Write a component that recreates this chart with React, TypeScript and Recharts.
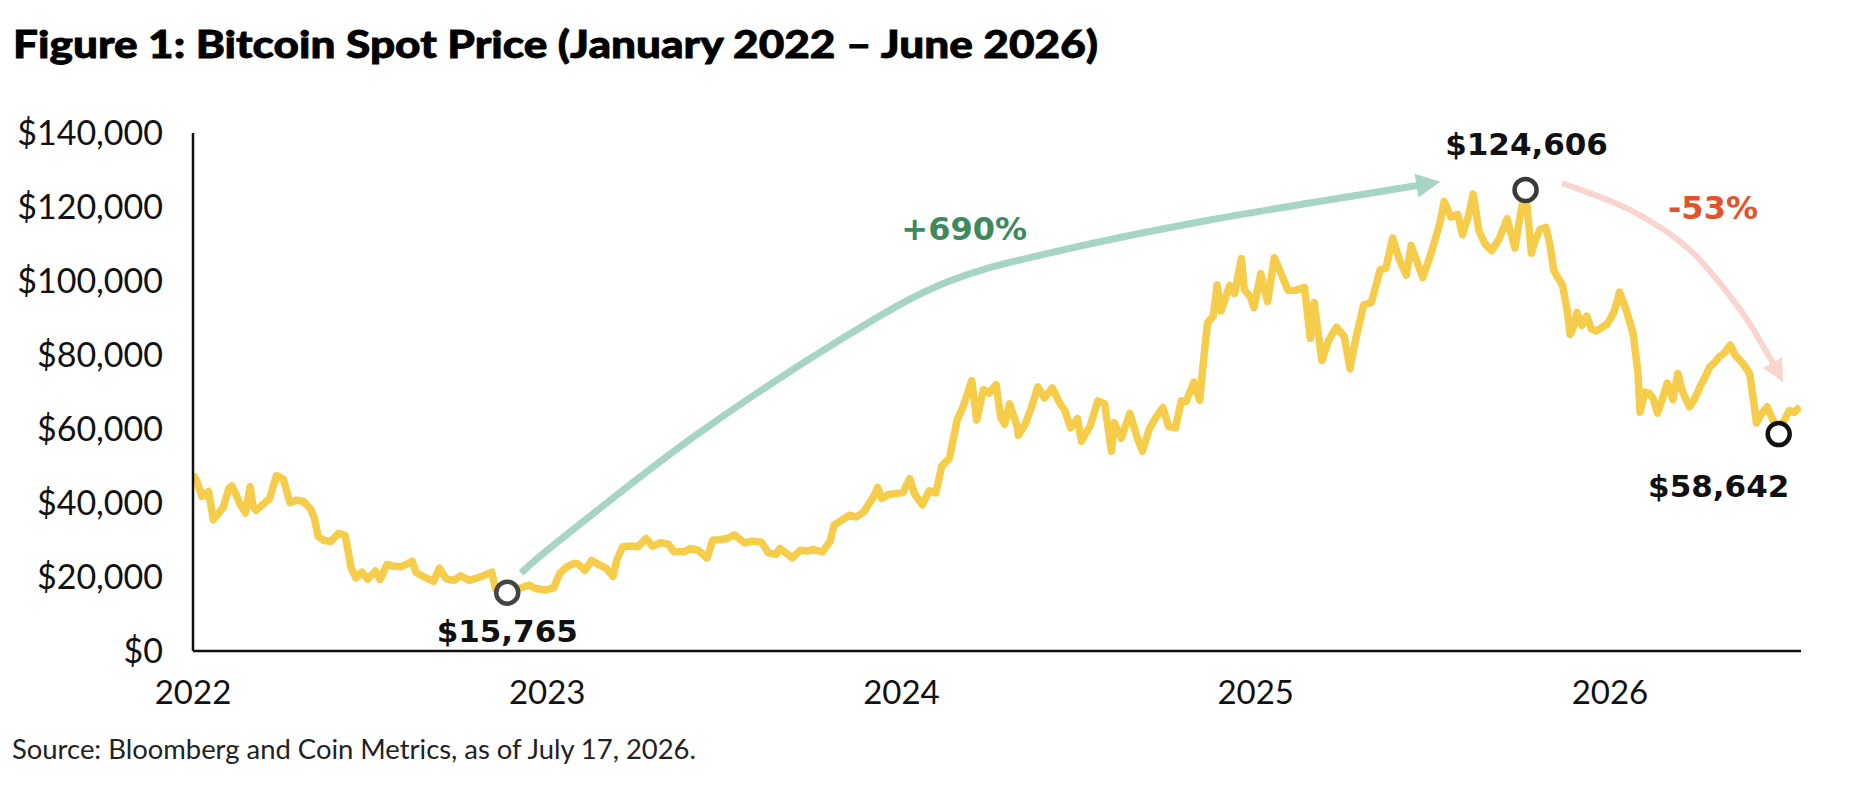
import React from 'react';
import { LineChart, Line, XAxis, YAxis, ReferenceDot } from 'recharts';

// ---- data (prices in thousands of USD) ----
const DAYS_2022 = ['01-01', '01-05', '01-10', '01-17', '01-22', '01-27', '02-01', '02-07', '02-10', '02-14', '02-18', '02-24', '03-01', '03-04', '03-07', '03-14', '03-21', '03-28', '04-04', '04-11', '04-18', '04-25', '05-02', '05-06', '05-10', '05-16', '05-23', '05-31', '06-07', '06-13', '06-18', '06-24', '06-30', '07-08', '07-13', '07-20', '07-27', '08-03', '08-10', '08-15', '08-19', '08-26', '09-06', '09-12', '09-19', '09-27', '10-04', '10-13', '10-25', '11-05', '11-09', '11-14', '11-21', '11-28', '12-05', '12-14', '12-20', '12-31'];
const PRICES_2022 = [47.7, 45.9, 41.8, 43.1, 35.5, 37.1, 38.7, 44.0, 44.6, 42.5, 40.0, 37.3, 44.4, 39.1, 38.0, 39.6, 41.2, 47.4, 46.5, 40.1, 40.8, 40.4, 38.5, 36.0, 31.0, 29.9, 29.6, 31.8, 31.2, 22.5, 19.8, 21.3, 19.4, 21.6, 19.3, 23.4, 22.9, 22.8, 23.5, 24.3, 21.2, 20.2, 18.8, 22.4, 19.5, 19.1, 20.3, 19.1, 20.1, 21.3, 16.7, 16.4, 15.765, 16.2, 17.1, 17.8, 16.9, 16.5];

const DAYS_2023 = ['01-08', '01-14', '01-21', '01-29', '02-02', '02-09', '02-16', '02-25', '03-03', '03-10', '03-14', '03-20', '03-29', '04-05', '04-13', '04-20', '04-28', '05-06', '05-12', '05-22', '05-29', '06-06', '06-15', '06-21', '06-28', '07-06', '07-13', '07-24', '08-01', '08-10', '08-17', '08-25', '08-29', '09-11', '09-19', '09-28', '10-02', '10-12', '10-20', '10-24', '11-01', '11-09', '11-16', '11-24', '12-04', '12-08', '12-12', '12-19', '12-28'];
const PRICES_2023 = [17.1, 20.9, 22.7, 23.7, 23.5, 21.8, 24.5, 23.1, 22.4, 20.2, 24.6, 28.2, 28.4, 28.2, 30.4, 28.3, 29.3, 28.9, 26.8, 26.8, 27.7, 27.2, 25.1, 30.0, 30.1, 30.4, 31.4, 29.2, 29.7, 29.4, 26.6, 26.1, 27.7, 25.2, 27.2, 27.0, 27.5, 26.8, 29.7, 34.0, 35.4, 36.7, 36.2, 37.7, 41.9, 44.2, 41.2, 42.3, 42.6];

const DAYS_2024 = ['01-03', '01-10', '01-15', '01-23', '01-30', '02-06', '02-12', '02-20', '02-28', '03-05', '03-08', '03-14', '03-19', '03-26', '04-01', '04-08', '04-13', '04-17', '04-22', '04-30', '05-01', '05-08', '05-15', '05-21', '05-28', '06-05', '06-12', '06-18', '06-24', '07-01', '07-05', '07-14', '07-22', '07-29', '08-05', '08-08', '08-15', '08-24', '09-01', '09-06', '09-13', '09-20', '09-27', '10-03', '10-10', '10-16', '10-21', '10-29', '11-04', '11-07', '11-12', '11-18', '11-22', '11-26', '12-05', '12-10', '12-17', '12-20', '12-26', '12-30'];
const PRICES_2024 = [42.8, 46.6, 42.5, 39.5, 43.3, 42.7, 49.9, 52.2, 62.5, 66.0, 68.3, 73.1, 62.4, 70.6, 69.7, 72.0, 63.0, 61.3, 66.8, 60.6, 58.3, 61.2, 66.2, 71.4, 68.4, 71.1, 67.3, 65.0, 60.3, 62.8, 56.7, 60.8, 67.6, 66.8, 54.0, 61.7, 57.5, 64.2, 57.3, 54.0, 60.0, 63.2, 65.8, 60.7, 60.3, 67.6, 67.4, 72.7, 67.8, 76.0, 88.7, 90.5, 98.9, 91.9, 98.8, 96.6, 106.1, 97.7, 95.8, 92.8];

const DAYS_2025 = ['01-06', '01-13', '01-20', '01-27', '02-03', '02-10', '02-20', '02-26', '03-02', '03-10', '03-17', '03-25', '04-02', '04-08', '04-14', '04-22', '04-30', '05-09', '05-15', '05-22', '05-29', '06-05', '06-10', '06-17', '06-22', '06-30', '07-03', '07-10', '07-14', '07-21', '07-28', '08-02', '08-08', '08-13', '08-19', '08-25', '09-01', '09-09', '09-17', '09-25', '10-01', '10-06', '10-12', '10-16', '10-21', '10-27', '10-31', '11-04', '11-07', '11-13', '11-18', '11-21', '11-25', '11-28', '12-03', '12-08', '12-13', '12-18', '12-24', '12-29'];
const PRICES_2025 = [102.0, 94.5, 106.3, 102.0, 97.5, 97.4, 98.3, 84.5, 94.2, 78.5, 84.0, 87.5, 85.0, 76.3, 84.5, 93.5, 94.2, 103.0, 103.5, 111.6, 105.7, 101.6, 109.6, 104.5, 100.9, 107.1, 109.6, 116.0, 121.5, 117.3, 118.0, 112.5, 117.5, 123.5, 113.5, 110.1, 108.2, 111.5, 116.8, 108.9, 118.6, 124.606, 107.5, 111.0, 114.0, 114.5, 110.0, 103.0, 101.5, 99.0, 92.0, 85.5, 88.0, 91.5, 88.0, 90.5, 87.0, 86.5, 87.5, 88.3];

const DAYS_2026 = ['01-05', '01-11', '01-18', '01-25', '01-30', '02-01', '02-06', '02-11', '02-15', '02-19', '02-24', '03-01', '03-07', '03-12', '03-17', '03-24', '03-29', '04-04', '04-09', '04-14', '04-19', '04-24', '04-29', '05-05', '05-10', '05-15', '05-20', '05-25', '05-30', '06-01', '06-06', '06-12', '06-18', '06-24', '06-29', '07-05', '07-10', '07-16'];
const PRICES_2026 = [91.5, 97.0, 92.0, 85.7, 75.0, 64.5, 70.0, 69.5, 68.0, 64.3, 68.0, 72.4, 68.0, 75.0, 70.0, 66.0, 68.0, 71.5, 74.0, 76.8, 78.0, 79.6, 80.5, 82.7, 80.0, 78.6, 77.0, 75.0, 66.0, 61.6, 64.0, 66.0, 62.4, 58.642, 62.0, 65.0, 64.5, 66.0];

const YEAR_TICKS = [2022, 2023, 2024, 2025, 2026];
const PRICE_TICKS = [0, 20000, 40000, 60000, 80000, 100000, 120000, 140000];

// annotated points: [date, price]
const LOW_POINT: [string, number] = ['2022-11-21', 15765];
const HIGH_POINT: [string, number] = ['2025-10-06', 124606];
const LAST_LOW_POINT: [string, number] = ['2026-06-24', 58642];

// arrow guides in data space: [fractional year, price]
const UP_ARROW: [number, number][] = [[2022.926, 21100], [2023.036, 30000], [2023.412, 57800], [2023.827, 84100], [2024.123, 99500], [2024.42, 107600], [2024.871, 116500], [2025.43, 125400], [2025.521, 126800]];
const DOWN_ARROW: [number, number][] = [[2025.865, 126500], [2026.057, 119200], [2026.226, 108400], [2026.368, 92200], [2026.447, 80000], [2026.489, 72700]];

// ---- layout ----
const W = 1864;
const H = 786;
const PLOT = { left: 193, top: 133, right: 1801, bottom: 651 };
const X_END = '2026-07-17';

const YELLOW = '#F6CD4A';
const FONT = 'Lato, "Open Sans", sans-serif';
const BOLD = '"DejaVu Sans", Lato, sans-serif';

const toYear = (iso: string) => {
  const [y, m, d] = iso.split('-').map(Number);
  return 2022 + (Date.UTC(y, m - 1, d) - Date.UTC(2022, 0, 1)) / (365.25 * 86400000);
};

const build = (year: number, days: string[], prices: number[]) =>
  days.map((md, i) => ({ t: toYear(`${year}-${md}`), price: prices[i] * 1000 }));

const data = [
  ...build(2022, DAYS_2022, PRICES_2022),
  ...build(2023, DAYS_2023, PRICES_2023),
  ...build(2024, DAYS_2024, PRICES_2024),
  ...build(2025, DAYS_2025, PRICES_2025),
  ...build(2026, DAYS_2026, PRICES_2026),
];

const X_MAX = toYear(X_END);
const sx = (t: number) => PLOT.left + ((t - 2022) / (X_MAX - 2022)) * (PLOT.right - PLOT.left);
const sy = (v: number) => PLOT.bottom - (v / 140000) * (PLOT.bottom - PLOT.top);

function smoothPath(pts: number[][]) {
  let d = `M${pts[0][0]},${pts[0][1]}`;
  for (let i = 0; i < pts.length - 1; i++) {
    const p0 = pts[i - 1] || pts[i];
    const p1 = pts[i];
    const p2 = pts[i + 1];
    const p3 = pts[i + 2] || p2;
    const c1 = [p1[0] + (p2[0] - p0[0]) / 6, p1[1] + (p2[1] - p0[1]) / 6];
    const c2 = [p2[0] - (p3[0] - p1[0]) / 6, p2[1] - (p3[1] - p1[1]) / 6];
    d += ` C${c1[0]},${c1[1]} ${c2[0]},${c2[1]} ${p2[0]},${p2[1]}`;
  }
  return d;
}

const Arrow = ({ points, color, width, head }: { points: [number, number][]; color: string; width: number; head: number }) => {
  const px = points.map(([t, v]) => [sx(t), sy(v)]);
  const tip = px[px.length - 1];
  const prev = px[px.length - 2];
  const len = Math.hypot(tip[0] - prev[0], tip[1] - prev[1]);
  const ux = (tip[0] - prev[0]) / len;
  const uy = (tip[1] - prev[1]) / len;
  const base = [tip[0] - ux * head, tip[1] - uy * head];
  const half = head * 0.5;
  const body = [...px.slice(0, -1), base];
  return (
    <g>
      <path d={smoothPath(body)} fill="none" stroke={color} strokeWidth={width} />
      <polygon
        points={`${tip[0]},${tip[1]} ${base[0] - uy * half},${base[1] + ux * half} ${base[0] + uy * half},${base[1] - ux * half}`}
        fill={color}
      />
    </g>
  );
};

const ValueLabel = ({ point, dx, dy }: { point: [string, number]; dx: number; dy: number }) => (
  <text
    x={sx(toYear(point[0])) + dx}
    y={sy(point[1]) + dy + 11}
    textAnchor="middle"
    fontFamily={BOLD}
    fontWeight={700}
    fontSize={31}
    fill="#111"
  >
    {`$${point[1].toLocaleString('en-US')}`}
  </text>
);

export default function App() {
  return (
    <div style={{ position: 'relative', width: W, height: H, background: '#fff' }}>
      <style>{'body{margin:0}'}</style>
      <LineChart
        width={W}
        height={H}
        data={data}
        margin={{ top: PLOT.top, right: W - PLOT.right, bottom: 75, left: 0 }}
      >
        <XAxis
          dataKey="t"
          type="number"
          domain={[2022, X_MAX]}
          ticks={YEAR_TICKS}
          tickFormatter={(v) => String(Math.round(v))}
          allowDataOverflow
          height={H - PLOT.bottom - 75}
          axisLine={{ stroke: '#111', strokeWidth: 2.5 }}
          tickLine={false}
          tickSize={0}
          tickMargin={30}
          tick={{ fill: '#111', fontSize: 33, fontFamily: FONT }}
        />
        <YAxis
          type="number"
          domain={[0, 140000]}
          ticks={PRICE_TICKS}
          width={PLOT.left}
          tickFormatter={(v) => `$${Number(v).toLocaleString('en-US')}`}
          axisLine={{ stroke: '#111', strokeWidth: 2.5 }}
          tickLine={false}
          tickSize={0}
          tickMargin={30}
          tick={{ fill: '#111', fontSize: 34, fontFamily: FONT }}
        />
        <Line
          type="linear"
          dataKey="price"
          stroke={YELLOW}
          strokeWidth={7.5}
          strokeLinejoin="round"
          dot={false}
          isAnimationActive={false}
        />
        <ReferenceDot x={toYear(LOW_POINT[0])} y={LOW_POINT[1]} r={11} fill="#fff" stroke="#444" strokeWidth={4.5} />
        <ReferenceDot x={toYear(HIGH_POINT[0])} y={HIGH_POINT[1]} r={11} fill="#fff" stroke="#3a3a3a" strokeWidth={4.5} />
        <ReferenceDot x={toYear(LAST_LOW_POINT[0])} y={LAST_LOW_POINT[1]} r={11} fill="#fff" stroke="#111" strokeWidth={4.5} />
      </LineChart>

      <svg width={W} height={H} style={{ position: 'absolute', left: 0, top: 0, pointerEvents: 'none' }}>
        <text
          x={13}
          y={58}
          fontFamily={FONT}
          fontWeight={900}
          fontSize={38}
          fill="#000"
          textLength={1085}
          lengthAdjust="spacingAndGlyphs"
          stroke="#000"
          strokeWidth={0.8}
        >
          Figure 1: Bitcoin Spot Price (January 2022 – June 2026)
        </text>
        <text x={12} y={759} fontFamily={FONT} fontSize={26} fill="#222" textLength={684} lengthAdjust="spacingAndGlyphs">
          Source: Bloomberg and Coin Metrics, as of July 17, 2026.
        </text>

        <Arrow points={UP_ARROW} color="#A6D6C3" width={7} head={24} />
        <Arrow points={DOWN_ARROW} color="#F8D6CF" width={6} head={22} />

        <text x={sx(2024.177)} y={sy(114300) + 12} textAnchor="middle" fontFamily={BOLD} fontWeight={700} fontSize={32} fill="#3E8A5C">
          +690%
        </text>
        <text x={sx(2026.291)} y={sy(120000) + 12} textAnchor="middle" fontFamily={BOLD} fontWeight={700} fontSize={32} fill="#E2532C">
          -53%
        </text>

        <ValueLabel point={LOW_POINT} dx={0} dy={38} />
        <ValueLabel point={HIGH_POINT} dx={1} dy={-46} />
        <ValueLabel point={LAST_LOW_POINT} dx={-60} dy={52} />
      </svg>
    </div>
  );
}
